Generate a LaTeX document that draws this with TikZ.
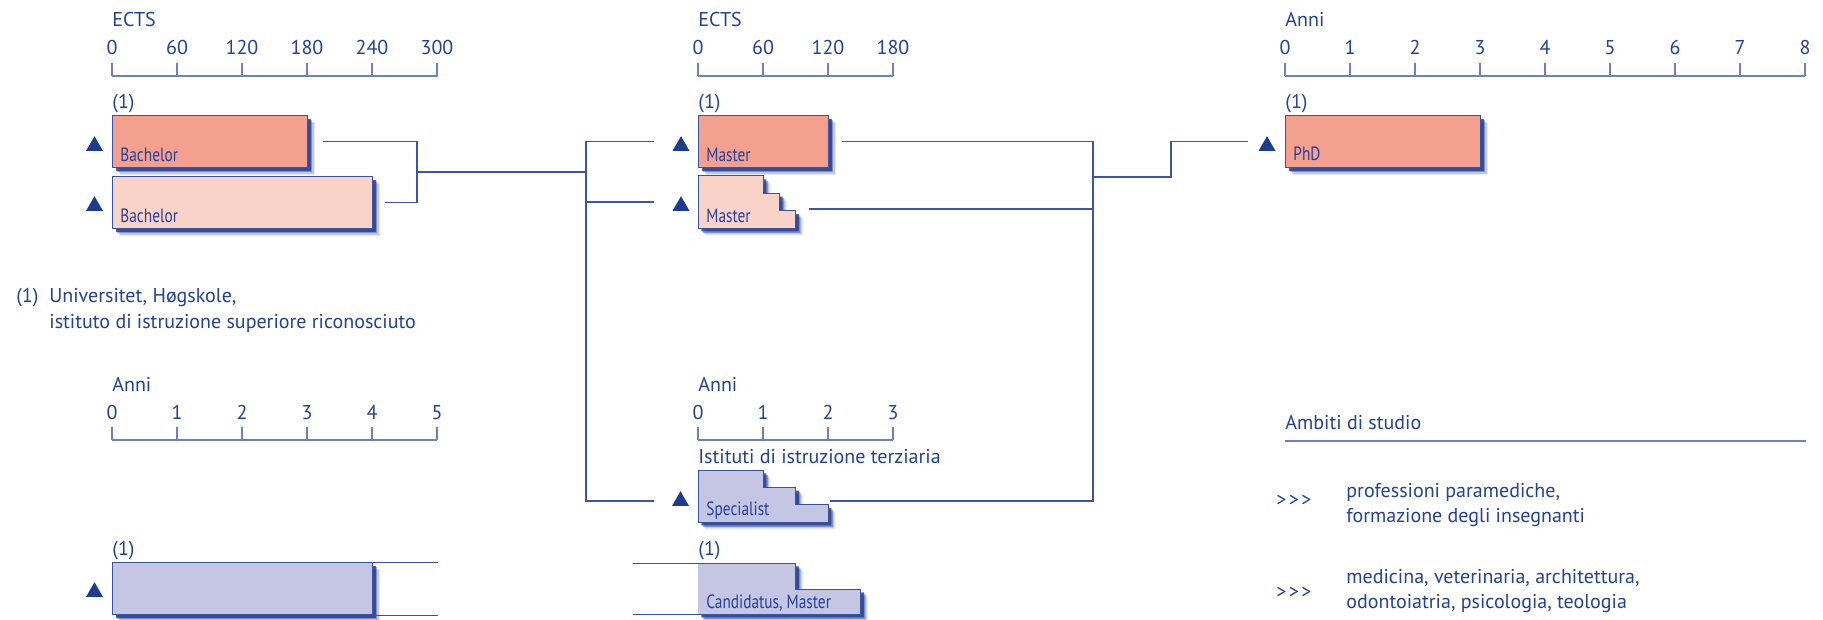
\documentclass[tikz,border=0pt]{standalone}
\usepackage{fontspec}
\setmainfont{PT Sans}
\newfontfamily\condfont[FakeStretch=0.8]{PT Sans}
\usetikzlibrary{shadows, shapes.geometric}

\definecolor{textblue}{HTML}{23409A}
\definecolor{triblue}{HTML}{1D3C8F}
\definecolor{edgeblue}{HTML}{3A529F}
\definecolor{axisblue}{HTML}{6D80BF}
\definecolor{connblue}{HTML}{3D53A4}
\definecolor{shadowblue}{HTML}{1F3C96}
\definecolor{salmon}{HTML}{F4A08F}
\definecolor{peach}{HTML}{F9D3C7}
\definecolor{lavender}{HTML}{C5C6E3}

\tikzset{
  txt/.style={anchor=base west, inner sep=0pt, text=textblue, font=\fontsize{10}{12}\selectfont},
  num/.style={txt, anchor=base},
  boxlabel/.style={txt, font=\condfont\fontsize{9.6}{11}\selectfont},
  axis/.style={draw=axisblue, line width=.6pt},
  conn/.style={draw=connblue, line width=.6pt},
  edge/.style={draw=edgeblue, line width=.5pt},
  shadowed/.style={
    drop shadow={shadow xshift=3.8pt, shadow yshift=-3.8pt, fill=shadowblue, opacity=.1},
    drop shadow={shadow xshift=3.1pt, shadow yshift=-3.1pt, fill=shadowblue, opacity=.2},
    drop shadow={shadow xshift=2.4pt, shadow yshift=-2.4pt, fill=shadowblue, opacity=.4},
    drop shadow={shadow xshift=1.7pt, shadow yshift=-1.7pt, fill=shadowblue, opacity=.8}},
  bar/.style={edge, shadowed, inner sep=0pt, anchor=north west, minimum height=26pt},
  stairs/.style={edge, shadowed},
  tri/.style={regular polygon, regular polygon sides=3, fill=triblue, inner sep=0pt, minimum size=9.8pt}
}

% scale: x0, y of line, title, labels, number of steps
\newcommand{\scalebar}[5]{%
  \node[txt] (#3-#1-#2) at (#1, #2-49) {#3};
  \draw[axis] (#1, #2) -- (#1+65*#5, #2);
  \foreach \lab [count=\i from 0] in {#4} {
    \draw[axis] (#1+65*\i, #2) -- (#1+65*\i, #2-13);
    \node[num] (n-#1-#2-\i) at (#1+65*\i, #2-21) {\lab};
  }%
}
\newcommand{\chev}{\mbox{>}\kern1.2pt\mbox{>}\kern1.2pt\mbox{>}}

\begin{document}
\begin{tikzpicture}[x=0.5pt, y=-0.5pt]
  \useasboundingbox (0,0) rectangle (1823,620);

  % scales
  \scalebar{112}{76}{ECTS}{0,60,120,180,240,300}{5}
  \scalebar{698}{76}{ECTS}{0,60,120,180}{3}
  \scalebar{1285}{76}{Anni}{0,1,...,8}{8}
  \scalebar{112}{440}{Anni}{0,1,...,5}{5}
  \scalebar{698}{440}{Anni}{0,1,2,3}{3}

  % bachelor
  \node[txt] (bach-note) at (112,109) {(1)};
  \node[bar, fill=salmon, minimum width=97.5pt] (bach1) at (112,115) {};
  \node[bar, fill=peach, minimum width=130pt] (bach2) at (112,176) {};
  \node[boxlabel] (bach1-lab) at (120,162) {Bachelor};
  \node[boxlabel] (bach2-lab) at (120,222) {Bachelor};
  \node[tri] (tb1) at (94.5,146) {};
  \node[tri] (tb2) at (94.5,206) {};

  % master
  \node[txt] (mast-note) at (698,109) {(1)};
  \node[bar, fill=salmon, minimum width=65pt] (mast1) at (698,115) {};
  \filldraw[stairs, fill=peach] (698,176) -- (763,176) -- (763,193.3) -- (779.3,193.3)
    -- (779.3,210.7) -- (795.5,210.7) -- (795.5,228) -- (698,228) -- cycle;
  \coordinate (mast2-w) at (698,202);
  \coordinate (mast2-e) at (796,209);
  \node[boxlabel] (mast1-lab) at (706,162) {Master};
  \node[boxlabel] (mast2-lab) at (706,222) {Master};
  \node[tri] (tm1) at (681,146) {};
  \node[tri] (tm2) at (681,206) {};

  % phd
  \node[txt] (phd-note) at (1285,109) {(1)};
  \node[bar, fill=salmon, minimum width=97.5pt] (phd) at (1285,115) {};
  \node[boxlabel] (phd-lab) at (1293,161) {PhD};
  \node[tri] (tp) at (1267,146) {};

  % footnote
  \node[txt] (fn-mark) at (16,302) {(1)};
  \node[txt] (fn1) at (49,302) {Universitet, Høgskole,};
  \node[txt] (fn2) at (49,328) {istituto di istruzione superiore riconosciuto};

  % bottom left
  \node[txt] (lic-note) at (112,555) {(1)};
  \node[bar, fill=lavender, minimum width=130pt] (lic) at (112,562) {};
  \draw[edge] (lic.north east) -- ++(65,0);
  \draw[edge] (lic.south east) -- ++(65,0);
  \node[tri] (tl) at (94.5,592) {};

  % specialist
  \node[txt] (terz) at (698,463) {Istituti di istruzione terziaria};
  \filldraw[stairs, fill=lavender] (698,470) -- (763,470) -- (763,487.3) -- (795.5,487.3)
    -- (795.5,504.7) -- (828,504.7) -- (828,522) -- (698,522) -- cycle;
  \coordinate (spec-w) at (698,501);
  \coordinate (spec-e) at (828,501);
  \node[boxlabel] (spec-lab) at (706,515) {Specialist};
  \node[tri] (ts) at (680.5,501) {};

  % candidatus
  \node[txt] (cand-note) at (698,555) {(1)};
  \fill[shadowed, lavender] (698,563) -- (795.5,563) -- (795.5,589) -- (860.5,589)
    -- (860.5,614) -- (698,614) -- cycle;
  \coordinate (cand-a) at (633,563);
  \coordinate (cand-b) at (633,614);
  \draw[edge] (cand-a) -- (795.5,563) -- (795.5,589) -- (860.5,589) -- (860.5,614) -- (cand-b);
  \node[boxlabel] (cand-lab) at (706,608) {Candidatus, Master};

  % connectors
  \coordinate (jl) at (417,172);
  \coordinate (jm) at (586,172);
  \coordinate (jr) at (1093,177);
  \coordinate (jp) at (1171,177);
  \draw[conn] ([xshift=7.5pt]bach1.east) -| (jl) -- (jm);
  \draw[conn] ([xshift=6pt]bach2.east) -| (jl);
  \draw[conn] ([xshift=-22pt]mast1.west) -| (jm) |- ([xshift=-22pt]spec-w);
  \draw[conn] ([xshift=-22pt]mast2-w) -- (mast2-w -| jm);
  \draw[conn] ([xshift=6.5pt]mast1.east) -| (jr) |- ([xshift=1pt]spec-e);
  \draw[conn] ([xshift=6.5pt]mast2-e) -- (mast2-e -| jr);
  \draw[conn] (jr) -- (jp) |- ([xshift=-18.5pt]phd.west);

  % fields of study
  \node[txt] (amb) at (1285,429) {Ambiti di studio};
  \draw[axis] (1285,441) -- (1806,441);
  \node[txt] (arr1) at (1276,506) {\chev};
  \node[txt] (fld1a) at (1346,497) {professioni paramediche,};
  \node[txt] (fld1b) at (1346,522) {formazione degli insegnanti};
  \node[txt] (arr2) at (1276,598) {\chev};
  \node[txt] (fld2a) at (1346,583) {medicina, veterinaria, architettura,};
  \node[txt] (fld2b) at (1346,608) {odontoiatria, psicologia, teologia};
\end{tikzpicture}
\end{document}
